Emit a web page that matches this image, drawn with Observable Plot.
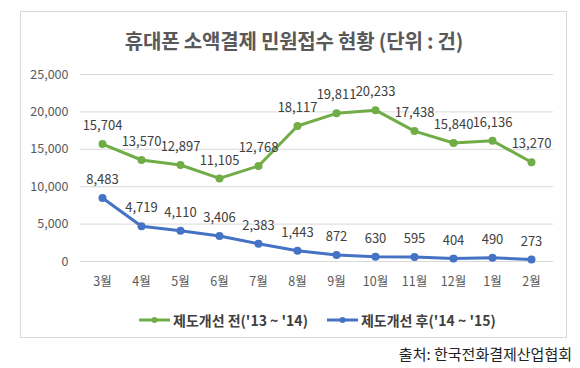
<!DOCTYPE html>
<html>
<head>
<meta charset="utf-8">
<script src="https://cdn.jsdelivr.net/npm/d3@7"></script>
<script src="https://cdn.jsdelivr.net/npm/@observablehq/plot@0.6"></script>
<style>
  html, body { margin: 0; padding: 0; background: #fff; }
  body { font-family: "Noto Sans CJK KR", "Noto Sans", sans-serif; }
  #wrap { position: relative; width: 580px; height: 368px; overflow: hidden; }
  #box { position: absolute; left: 20px; top: 11px; width: 547px; height: 327px; border: 1px solid #d9d9d9; box-sizing: border-box; }
  #title { position: absolute; left: 20px; width: 548px; top: 27px; text-align: center; font-size: 20px; font-weight: bold; color: #595959; line-height: 28px; letter-spacing: -0.2px; }
  #chart { position: absolute; left: 0; top: 0; }
  #legend { position: absolute; top: 310px; left: 139px; height: 20px; display: flex; align-items: center; font-size: 14px; font-weight: bold; color: #404040; white-space: nowrap; }
  .item { display: flex; align-items: center; }
  .item svg { margin-right: 3px; }
  #source { position: absolute; right: 8px; top: 343px; font-size: 15px; color: #222; line-height: 22px; }
</style>
</head>
<body>
<div id="wrap">
  <div id="box"></div>
  <div id="title"></div>
  <div id="chart"></div>
  <div id="legend"></div>
  <div id="source"></div>
</div>
<script>
const titleText = "휴대폰 소액결제 민원접수 현황 (단위 : 건)";
const sourceText = "출처:  한국전화결제산업협회";
const months = ["3월", "4월", "5월", "6월", "7월", "8월", "9월", "10월", "11월", "12월", "1월", "2월"];
const seriesNames = ["제도개선 전('13 ~ '14)", "제도개선 후('14 ~ '15)"];
const beforeValues = [15704, 13570, 12897, 11105, 12768, 18117, 19811, 20233, 17438, 15840, 16136, 13270];
const afterValues = [8483, 4719, 4110, 3406, 2383, 1443, 872, 630, 595, 404, 490, 273];
const yTicks = [0, 5000, 10000, 15000, 20000, 25000];
const colors = ["#70AD47", "#4472C4"];

document.getElementById("title").textContent = titleText;
document.getElementById("source").textContent = sourceText;

const data = [];
months.forEach((m, i) => {
  data.push({month: m, value: beforeValues[i], series: seriesNames[0]});
  data.push({month: m, value: afterValues[i], series: seriesNames[1]});
});

const fmt = d3.format(",");

const chart = Plot.plot({
  width: 580,
  height: 300,
  marginLeft: 80,
  marginRight: 27,
  marginTop: 74,
  marginBottom: 39,
  style: {fontFamily: "\"Noto Sans CJK KR\", sans-serif", fontSize: "12.5px", color: "#595959", background: "transparent", overflow: "visible"},
  x: {type: "point", domain: months, padding: 0.5, label: null},
  y: {domain: [0, 25000], label: null},
  color: {domain: seriesNames, range: colors},
  marks: [
    Plot.gridY(yTicks, {stroke: "#d9d9d9", strokeOpacity: 1, strokeWidth: 1}),
    Plot.axisY({ticks: yTicks, tickSize: 0, tickPadding: 12, tickFormat: fmt, label: null, fontSize: 12.5, fill: "#595959"}),
    Plot.axisX({tickSize: 0, tickPadding: 16, label: null, fontSize: 12.5, fill: "#595959"}),
    Plot.line(data, {x: "month", y: "value", stroke: "series", strokeWidth: 3}),
    Plot.dot(data, {x: "month", y: "value", fill: "series", r: 4}),
    Plot.text(data, {x: "month", y: "value", text: d => fmt(d.value), dy: -18, fill: "#404040", fontSize: 13})
  ]
});
document.getElementById("chart").appendChild(chart);

const legend = document.getElementById("legend");
seriesNames.forEach((name, i) => {
  const item = document.createElement("div");
  item.className = "item";
  if (i > 0) item.style.marginLeft = "19px";
  item.innerHTML = `<svg width="31" height="10"><line x1="0" y1="5" x2="31" y2="5" stroke="${colors[i]}" stroke-width="3"/><circle cx="15.5" cy="5" r="3" fill="${colors[i]}"/></svg>`;
  const span = document.createElement("span");
  span.textContent = name;
  item.appendChild(span);
  legend.appendChild(item);
});
</script>
</body>
</html>
